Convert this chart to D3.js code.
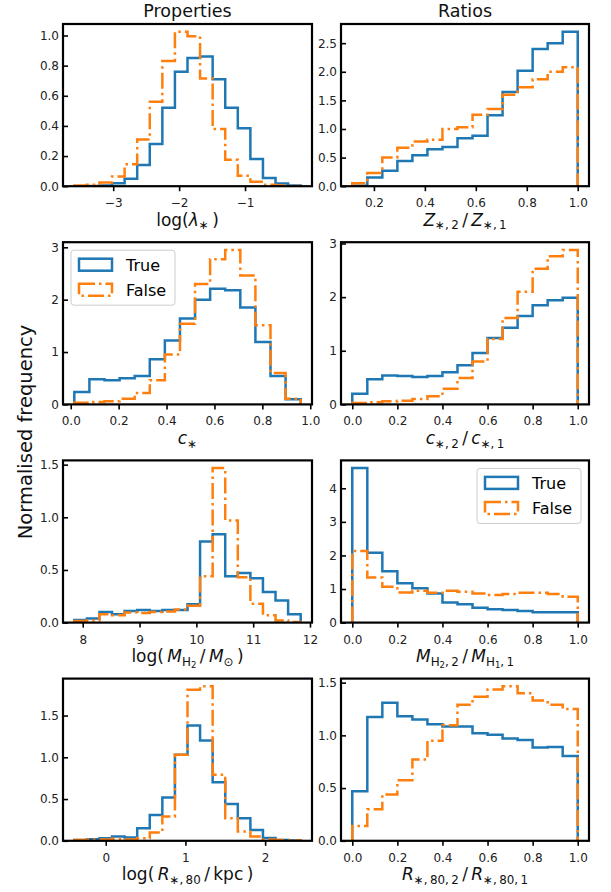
<!DOCTYPE html>
<html>
<head>
<meta charset="utf-8">
<script src="https://cdn.jsdelivr.net/npm/d3@7"></script>
<style>
body { margin: 0; background: #fff; }
svg { font-family: "DejaVu Sans", sans-serif; }
</style>
</head>
<body>
<svg id="chart" width="611" height="892"></svg>
<script>
// histogram bins: [first edge, last edge, number of bins]
var lambdaBins = [-3.59, -0.156, 18];
var lambdaTrue  = [0, 0.002, 0.005, 0.02, 0.05, 0.14, 0.28, 0.52, 0.76, 0.85, 0.86, 0.71, 0.52, 0.385, 0.18, 0.055, 0.018, 0.005];
var lambdaFalse = [0.005, 0.01, 0.025, 0.065, 0.145, 0.31, 0.56, 0.83, 1.025, 0.995, 0.715, 0.38, 0.175, 0.07, 0.03, 0.01, 0.004, 0.002];

var zRatioBins = [0.115, 1.0, 15];
var zRatioTrue  = [0.01, 0.15, 0.27, 0.44, 0.54, 0.645, 0.686, 0.84, 0.88, 1.24, 1.645, 2.02, 2.40, 2.50, 2.70];
var zRatioFalse = [0.05, 0.23, 0.5, 0.67, 0.78, 0.81, 1.0, 1.03, 1.25, 1.35, 1.6, 1.73, 1.87, 2.0, 2.08];

var concBins = [0.015, 0.96, 15];
var concTrue  = [0.235, 0.48, 0.46, 0.50, 0.54, 0.86, 1.22, 1.64, 2.0, 2.21, 2.18, 1.85, 1.19, 0.54, 0.1];
var concFalse = [0.03, 0.045, 0.06, 0.11, 0.22, 0.46, 0.955, 1.54, 2.3, 2.77, 2.95, 2.46, 1.51, 0.6, 0.11];

var cRatioBins = [0, 1, 15];
var cRatioTrue  = [0.2, 0.47, 0.54, 0.53, 0.51, 0.53, 0.6, 0.73, 0.96, 1.24, 1.43, 1.65, 1.85, 1.94, 1.99];
var cRatioFalse = [0.025, 0.04, 0.06, 0.07, 0.1, 0.15, 0.29, 0.49, 0.8, 1.22, 1.61, 2.1, 2.53, 2.76, 2.88];

var mh2Bins = [7.852, 11.836, 18];
var mh2True  = [0.025, 0.04, 0.1, 0.08, 0.11, 0.12, 0.11, 0.12, 0.12, 0.175, 0.77, 0.84, 0.44, 0.47, 0.42, 0.29, 0.21, 0.08];
var mh2False = [0.015, 0.02, 0.08, 0.07, 0.095, 0.09, 0.1, 0.105, 0.125, 0.16, 0.44, 1.467, 0.97, 0.43, 0.18, 0.07, 0.02, 0.005];

var mRatioBins = [0, 1, 15];
var mRatioTrue  = [4.6, 2.08, 1.53, 1.17, 1.02, 0.87, 0.6, 0.545, 0.445, 0.4, 0.375, 0.345, 0.31, 0.31, 0.31];
var mRatioFalse = [2.13, 1.345, 1.07, 0.9, 0.95, 0.89, 0.95, 0.92, 0.87, 0.82, 0.85, 0.89, 0.89, 0.85, 0.77];

var radBins = [-0.394, 2.446, 18];
var radTrue  = [0.01, 0.02, 0.03, 0.05, 0.04, 0.15, 0.31, 0.52, 1.03, 1.38, 1.2, 0.7, 0.44, 0.27, 0.13, 0.035, 0.01, 0.005];
var radFalse = [0.01, 0.015, 0.015, 0.025, 0.015, 0.03, 0.1, 0.29, 1.03, 1.81, 1.85, 0.79, 0.27, 0.11, 0.05, 0.015, 0.01, 0.005];

var rRatioBins = [0, 1, 15];
var rRatioTrue  = [0.47, 1.175, 1.31, 1.18, 1.15, 1.105, 1.085, 1.085, 1.02, 1.005, 0.97, 0.955, 0.885, 0.89, 0.805];
var rRatioFalse = [0.14, 0.3, 0.44, 0.575, 0.77, 0.95, 1.095, 1.29, 1.365, 1.435, 1.465, 1.40, 1.33, 1.29, 1.25];

// tick values
var ticksLambda = [-3, -2, -1];
var ticksUnit = [0, 0.2, 0.4, 0.6, 0.8, 1.0];
var ticksZRatio = [0.2, 0.4, 0.6, 0.8, 1.0];
var ticksMh2 = [8, 9, 10, 11, 12];
var ticksRad = [0, 1, 2];
var yTicksLambda = [0, 0.2, 0.4, 0.6, 0.8, 1.0];
var yTicksHalf25 = [0, 0.5, 1.0, 1.5, 2.0, 2.5];
var yTicksInt3 = [0, 1, 2, 3];
var yTicksHalf15 = [0, 0.5, 1.0, 1.5];
var yTicksInt4 = [0, 1, 2, 3, 4];

var seriesNames = ["True", "False"];
var colors = ["#1f77b4", "#ff7f0e"];
var dashes = [null, "16,4,2.5,4"];
var colTitles = ["Properties", "Ratios"];

// math labels: [text, style] with i = italic, s = subscript, ss = sub-subscript
var labLambda = [["log(", ""], ["λ", "i"], ["∗", "s"], ["\u2009)", ""]];
var labZRatio = [["Z", "i"], ["∗,\u20092", "s"], ["\u2009/\u2009", ""], ["Z", "i"], ["∗,\u20091", "s"]];
var labConc = [["c", "i"], ["∗", "s"]];
var labCRatio = [["c", "i"], ["∗,\u20092", "s"], ["\u2009/\u2009", ""], ["c", "i"], ["∗,\u20091", "s"]];
var labMh2 = [["log(\u2009", ""], ["M", "i"], ["H", "s"], ["2", "ss"], ["\u2009/\u2009", ""], ["M", "i"], ["⊙", "s"], ["\u2009)", ""]];
var labMRatio = [["M", "i"], ["H", "s"], ["2", "ss"], [",\u20092", "s"], ["\u2009/\u2009", ""], ["M", "i"], ["H", "s"], ["1", "ss"], [",\u20091", "s"]];
var labRad = [["log(\u2009", ""], ["R", "i"], ["∗,\u200980", "s"], ["\u2009/\u2009kpc\u2009)", ""]];
var labRRatio = [["R", "i"], ["∗,\u200980,\u20092", "s"], ["\u2009/\u2009", ""], ["R", "i"], ["∗,\u200980,\u20091", "s"]];

var panels = [
  {row: 0, col: 0, bins: lambdaBins, t: lambdaTrue, f: lambdaFalse, xt: ticksLambda, xf: "d", yt: yTicksLambda, yf: ".1f", lab: labLambda},
  {row: 0, col: 1, bins: zRatioBins, t: zRatioTrue, f: zRatioFalse, xt: ticksZRatio, xf: ".1f", yt: yTicksHalf25, yf: ".1f", lab: labZRatio},
  {row: 1, col: 0, bins: concBins, t: concTrue, f: concFalse, xt: ticksUnit, xf: ".1f", yt: yTicksInt3, yf: "d", lab: labConc, legend: "left"},
  {row: 1, col: 1, bins: cRatioBins, t: cRatioTrue, f: cRatioFalse, xt: ticksUnit, xf: ".1f", yt: yTicksInt3, yf: "d", lab: labCRatio},
  {row: 2, col: 0, bins: mh2Bins, t: mh2True, f: mh2False, xt: ticksMh2, xf: "d", yt: yTicksHalf15, yf: ".1f", lab: labMh2},
  {row: 2, col: 1, bins: mRatioBins, t: mRatioTrue, f: mRatioFalse, xt: ticksUnit, xf: ".1f", yt: yTicksInt4, yf: "d", lab: labMRatio, legend: "right"},
  {row: 3, col: 0, bins: radBins, t: radTrue, f: radFalse, xt: ticksRad, xf: "d", yt: yTicksHalf15, yf: ".1f", lab: labRad},
  {row: 3, col: 1, bins: rRatioBins, t: rRatioTrue, f: rRatioFalse, xt: ticksUnit, xf: ".1f", yt: yTicksHalf15, yf: ".1f", lab: labRRatio}
];

var colLeft = [63, 341], colWidth = [249, 248];
var rowTop = [24, 242.2, 460.4, 678.6], rowHeight = 162.2;

var svg = d3.select("#chart");

function mathLabel(sel, parts, fs) {
  var cur = 0;
  parts.forEach(function(p) {
    var size = fs, shift = 0;
    if (p[1] === "s") { size = fs * 0.7; shift = fs * 0.22; }
    if (p[1] === "ss") { size = fs * 0.5; shift = fs * 0.22 + fs * 0.13; }
    sel.append("tspan")
      .attr("font-size", size)
      .attr("font-style", p[1] === "i" ? "italic" : "normal")
      .attr("dy", shift - cur)
      .text(p[0]);
    cur = shift;
  });
}

function drawLegend(g, lx, ly) {
  var lg = g.append("g").attr("transform", "translate(" + lx + "," + ly + ")");
  lg.append("rect")
    .attr("width", 104).attr("height", 55).attr("rx", 3)
    .attr("fill", "white").attr("fill-opacity", 0.8)
    .attr("stroke", "#cccccc").attr("stroke-width", 1);
  seriesNames.forEach(function(name, i) {
    lg.append("rect")
      .attr("x", 8).attr("y", 8.5 + i * 25)
      .attr("width", 33).attr("height", 12)
      .attr("fill", "none")
      .attr("stroke", colors[i]).attr("stroke-width", 2.5)
      .attr("stroke-dasharray", dashes[i]);
    lg.append("text")
      .attr("x", 55).attr("y", 20.5 + i * 25)
      .attr("font-size", 16)
      .text(name);
  });
}

panels.forEach(function(p, pi) {
  var w = colWidth[p.col], h = rowHeight;
  var g = svg.append("g")
    .attr("transform", "translate(" + colLeft[p.col] + "," + rowTop[p.row] + ")");

  var n = p.bins[2];
  var span = p.bins[1] - p.bins[0];
  var edges = d3.range(n + 1).map(function(i) { return p.bins[0] + span * i / n; });

  var x = d3.scaleLinear()
    .domain([p.bins[0] - 0.05 * span, p.bins[1] + 0.05 * span])
    .range([0, w]);
  var y = d3.scaleLinear()
    .domain([0, d3.max(p.t.concat(p.f)) * 1.05])
    .range([h, 0]);

  g.append("clipPath").attr("id", "clip" + pi)
    .append("rect").attr("width", w).attr("height", h);

  var line = d3.line()
    .x(function(d) { return x(d[0]); })
    .y(function(d) { return y(d[1]); });

  [p.t, p.f].forEach(function(vals, si) {
    var pts = [[edges[0], 0]];
    vals.forEach(function(v, i) {
      pts.push([edges[i], v]);
      pts.push([edges[i + 1], v]);
    });
    pts.push([edges[n], 0]);
    g.append("path")
      .attr("clip-path", "url(#clip" + pi + ")")
      .attr("d", line(pts))
      .attr("fill", "none")
      .attr("stroke", colors[si])
      .attr("stroke-width", 2.5)
      .attr("stroke-linejoin", "miter")
      .attr("stroke-dasharray", dashes[si]);
  });

  // y axis, ticks pointing inwards
  var ya = g.append("g")
    .call(d3.axisLeft(y).tickValues(p.yt).tickFormat(d3.format(p.yf))
      .tickSizeInner(-5).tickSizeOuter(0).tickPadding(4));
  ya.select(".domain").remove();
  ya.attr("font-size", 12).attr("font-family", null);
  ya.selectAll("line").attr("stroke-width", 1.6);
  ya.selectAll("text").attr("fill", "#222");

  // x axis, ticks pointing outwards
  var xa = g.append("g")
    .attr("transform", "translate(0," + h + ")")
    .call(d3.axisBottom(x).tickValues(p.xt).tickFormat(d3.format(p.xf))
      .tickSizeInner(5).tickSizeOuter(0).tickPadding(7.5));
  xa.select(".domain").remove();
  xa.attr("font-size", 12).attr("font-family", null);
  xa.selectAll("line").attr("stroke-width", 1.6);
  xa.selectAll("text").attr("fill", "#222");

  g.append("rect")
    .attr("width", w).attr("height", h)
    .attr("fill", "none").attr("stroke", "black").attr("stroke-width", 2.2);

  var xl = g.append("text")
    .attr("x", w / 2).attr("y", h + 39.5)
    .attr("text-anchor", "middle")
    .style("white-space", "pre")
    .attr("fill", "#111");
  mathLabel(xl, p.lab, 17);

  if (p.legend === "left") drawLegend(g, 8, 8);
  if (p.legend === "right") drawLegend(g, w - 8 - 104, 8);
});

colTitles.forEach(function(t, i) {
  svg.append("text")
    .attr("x", colLeft[i] + colWidth[i] / 2).attr("y", 16.5)
    .attr("text-anchor", "middle")
    .attr("font-size", 17.5)
    .attr("fill", "#111")
    .text(t);
});

svg.append("text")
  .attr("transform", "translate(32.3,432) rotate(-90)")
  .attr("text-anchor", "middle")
  .attr("font-size", 19.5)
  .attr("fill", "#111")
  .text("Normalised frequency");
</script>
</body>
</html>
